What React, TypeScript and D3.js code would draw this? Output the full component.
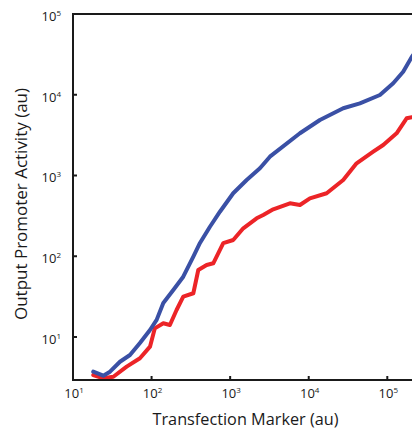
import React from "react";
import * as d3 from "d3";

const blueX = [18.1, 24.3, 29.6, 39.6, 53.1, 71.1, 95.5, 116, 141, 189, 253, 340, 413, 553, 741, 1094, 1622, 2393, 3206, 7727, 13880, 27480, 44770, 80540, 118900, 159300, 205600, 240000];
const blueY = [3.72, 3.32, 3.72, 4.94, 5.98, 8.43, 12.2, 16.3, 26.4, 38.2, 55.8, 98.7, 146, 232, 356, 603, 880, 1228, 1710, 3334, 4868, 6797, 7838, 9930, 13860, 19290, 29600, 36000];

const redX = [18.1, 24.3, 32.6, 48.2, 71.1, 95.5, 110, 141, 171, 208, 253, 340, 393, 502, 610, 817, 1094, 1469, 2173, 2637, 3535, 5764, 7727, 10350, 16900, 27480, 40640, 66190, 88740, 131300, 176100, 205600, 240000];
const redY = [3.38, 3.08, 3.22, 4.29, 5.45, 7.59, 12.8, 14.8, 14.1, 21.6, 31.6, 34.8, 67.6, 78.0, 81.8, 145, 159, 222, 295, 324, 381, 453, 431, 522, 603, 880, 1416, 1972, 2386, 3334, 5110, 5260, 5300];

const xTickExps = [1, 2, 3, 4, 5];
const yTickExps = [1, 2, 3, 4, 5];

const xTitle = "Transfection Marker (au)";
const yTitle = "Output Promoter Activity (au)";

const W = 412;
const H = 432;
const FONT = "'Open Sans', 'Noto Sans', sans-serif";

export default function App() {
  const left = 73;
  const top = 14;
  const bottom = 380;
  const decadeX = 78.575;
  const x = d3.scaleLog().domain([10, Math.pow(10, 5.4)]).range([left, left + 4.4 * decadeX]);
  const y = d3.scaleLog().domain([2.934, 1e5]).range([bottom, top]);

  const line = d3
    .line<[number, number]>()
    .x((d) => x(d[0]))
    .y((d) => y(d[1]))
    .curve(d3.curveLinear);

  const blue = blueX.map((v, i) => [v, blueY[i]] as [number, number]);
  const red = redX.map((v, i) => [v, redY[i]] as [number, number]);

  return (
    <svg
      width={W}
      height={H}
      style={{ position: "absolute", left: 0, top: 0, background: "#fff" }}
      fontFamily={FONT}
    >
      <defs>
        <clipPath id="plotclip">
          <rect x={left} y={top} width={W - left} height={bottom - top} />
        </clipPath>
      </defs>
      <g clipPath="url(#plotclip)">
        <path d={line(red) || ""} fill="none" stroke="#ec2427" strokeWidth={4} strokeLinejoin="round" strokeLinecap="round" />
        <path d={line(blue) || ""} fill="none" stroke="#3a50a5" strokeWidth={4} strokeLinejoin="round" strokeLinecap="round" />
      </g>
      {/* axes */}
      <line x1={left} x2={W} y1={top} y2={top} stroke="#1a1a1a" strokeWidth={2} />
      <line x1={left} x2={left} y1={top - 1} y2={bottom + 1} stroke="#1a1a1a" strokeWidth={2} />
      <line x1={left - 1} x2={W} y1={bottom} y2={bottom} stroke="#1a1a1a" strokeWidth={2} />
      {xTickExps.map((e) => {
        const px = x(Math.pow(10, e));
        return (
          <g key={"x" + e}>
            {e > 1 && <line x1={px} x2={px} y1={bottom} y2={bottom - 4} stroke="#1a1a1a" strokeWidth={2} />}
            <text x={px + 1} y={398} textAnchor="middle" fontSize={13} fill="#1a1a1a">
              10<tspan fontSize={8} dy={-5}>{e}</tspan>
            </text>
          </g>
        );
      })}
      {yTickExps.map((e) => {
        const py = y(Math.pow(10, e));
        return (
          <g key={"y" + e}>
            {e < 5 && <line x1={left} x2={left + 4} y1={py} y2={py} stroke="#1a1a1a" strokeWidth={2} />}
            <text x={61} y={py + 7} textAnchor="end" fontSize={13} fill="#1a1a1a">
              10<tspan fontSize={8} dy={-5}>{e}</tspan>
            </text>
          </g>
        );
      })}
      <text x={245.5} y={425} textAnchor="middle" fontSize={16} fill="#1a1a1a" textLength={186} lengthAdjust="spacingAndGlyphs">
        {xTitle}
      </text>
      <text
        transform={`translate(27, 204) rotate(-90)`}
        textAnchor="middle"
        fontSize={16}
        fill="#1a1a1a"
        textLength={232}
        lengthAdjust="spacingAndGlyphs"
      >
        {yTitle}
      </text>
    </svg>
  );
}
